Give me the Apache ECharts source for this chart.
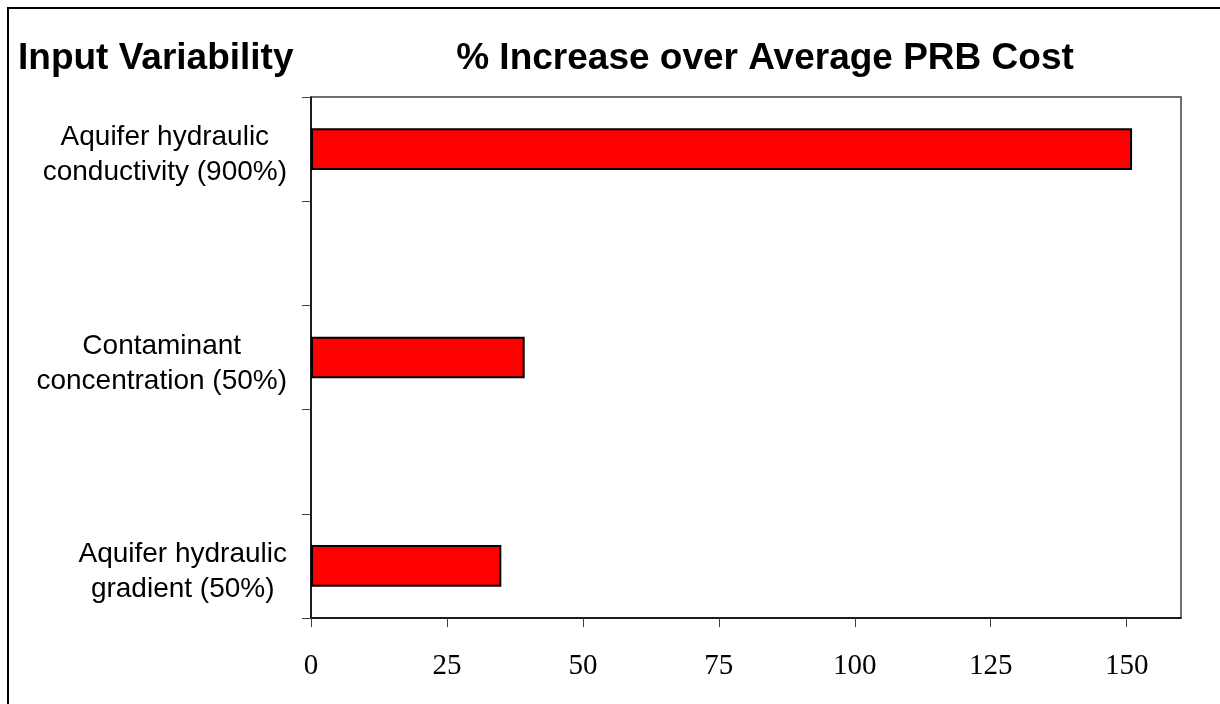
<!DOCTYPE html>
<html>
<head>
<meta charset="utf-8">
<script src="https://cdn.jsdelivr.net/npm/echarts@6/dist/echarts.min.js"></script>
<style>
  html, body { margin: 0; padding: 0; background: #fff; }
  #chart { width: 1220px; height: 704px; }
</style>
</head>
<body>
<div id="chart"></div>
<script>
// Input factors (blank rows leave gaps between the bars)
var categories = [
  'Aquifer hydraulic\nconductivity (900%)',
  '',
  'Contaminant\nconcentration (50%)',
  '',
  'Aquifer hydraulic\ngradient (50%)'
];
// % increase over the average PRB cost
var increaseValues = [151, null, 39.3, null, 35.0];
// Tick labels along the cost axis
var xTicks = [0, 25, 50, 75, 100, 125, 150];

var chart = echarts.init(document.getElementById('chart'), null, { renderer: 'canvas' });

var titleFont = { fontFamily: 'Liberation Sans, Arial, sans-serif', fontWeight: 'bold', fontSize: 37, color: '#000' };

var option = {
  backgroundColor: '#ffffff',
  animation: false,
  title: [
    {
      text: 'Input Variability',
      left: 13,
      top: 35,
      textStyle: titleFont
    },
    {
      text: '% Increase over Average PRB Cost',
      left: 760,
      textAlign: 'center',
      top: 35,
      textStyle: titleFont
    }
  ],
  graphic: [
    {
      type: 'rect',
      shape: { x: 8, y: 8, width: 1300, height: 800 },
      style: { fill: 'none', stroke: '#000', lineWidth: 2 },
      silent: true,
      z: 100
    }
  ],
  grid: {
    left: 311,
    top: 97,
    right: 39,
    bottom: 86,
    show: true,
    backgroundColor: '#ffffff',
    borderColor: '#404040',
    borderWidth: 1.5
  },
  xAxis: {
    type: 'value',
    min: 0,
    max: 160,
    interval: 25,
    axisLine: { show: true, lineStyle: { color: '#000', width: 1.5 } },
    axisTick: { show: true, inside: false, length: 9, lineStyle: { color: '#404040', width: 1 }, customValues: xTicks },
    axisLabel: {
      customValues: xTicks,
      margin: 34,
      fontFamily: 'Liberation Serif, Times New Roman, serif',
      fontSize: 29,
      color: '#000'
    },
    splitLine: { show: false }
  },
  yAxis: {
    type: 'category',
    inverse: true,
    data: categories,
    axisLine: { show: true, lineStyle: { color: '#000', width: 1.5 } },
    axisTick: { show: true, inside: false, length: 9, lineStyle: { color: '#404040', width: 1 } },
    axisLabel: {
      margin: 24,
      align: 'right',
      padding: [12, 0, 0, 0],
      formatter: function (v) {
        if (!v) return '';
        return v.split('\n').map(function (s) { return '{c|' + s + '}'; }).join('\n');
      },
      rich: {
        c: {
          align: 'center',
          fontFamily: 'Liberation Sans, Arial, sans-serif',
          fontSize: 28,
          lineHeight: 35,
          color: '#000'
        }
      }
    },
    splitLine: { show: false }
  },
  series: [
    {
      type: 'bar',
      data: increaseValues,
      barWidth: '40%',
      itemStyle: { color: '#ff0000', borderColor: '#000', borderWidth: 2 }
    }
  ]
};

chart.setOption(option);
</script>
</body>
</html>
